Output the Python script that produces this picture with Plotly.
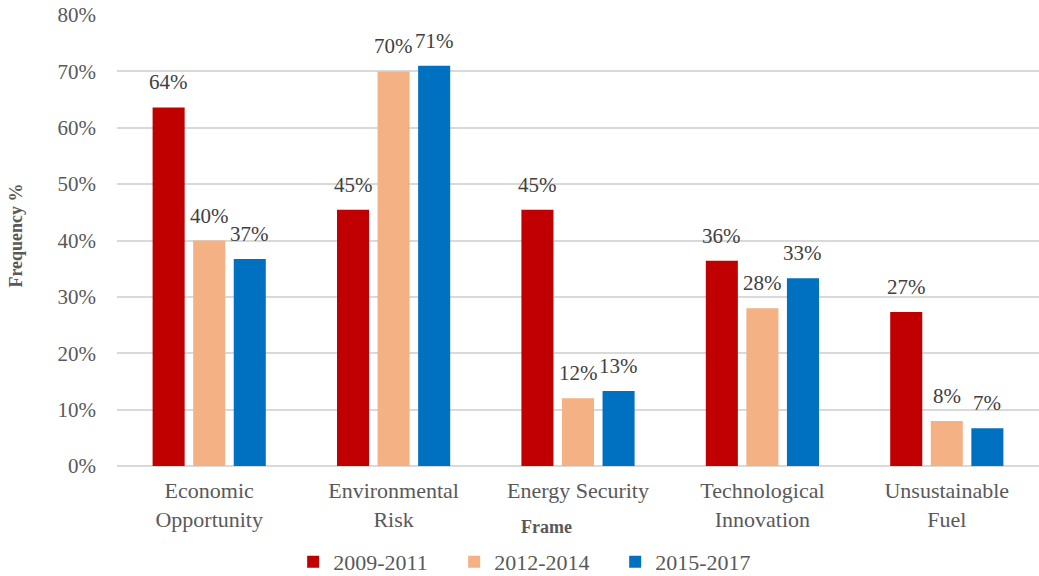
import plotly.graph_objects as go

# Share of articles using each frame, by period
frames = ["Economic<br>Opportunity", "Environmental<br>Risk", "Energy Security",
          "Technological<br>Innovation", "Unsustainable<br>Fuel"]
periods = ["2009-2011", "2012-2014", "2015-2017"]
share_2009_2011 = [0.636, 0.4545, 0.4545, 0.364, 0.273]
share_2012_2014 = [0.40, 0.70, 0.12, 0.28, 0.08]
share_2015_2017 = [0.367, 0.71, 0.133, 0.333, 0.067]
series = [share_2009_2011, share_2012_2014, share_2015_2017]
colors = ["#C00000", "#F4B183", "#0070C0"]

FONT = "'Liberation Serif', 'Times New Roman', serif"
GREY = "#595959"

fig = go.Figure()
for name, vals, col in zip(periods, series, colors):
    fig.add_trace(go.Bar(name=name, x=frames, y=vals, marker=dict(color=col, line=dict(width=0))))

# value labels above each bar, offset horizontally to sit over its bar in the group
offsets = [-40.5, 0, 40.5]
for vals, dx in zip(series, offsets):
    for f, v in zip(frames, vals):
        fig.add_annotation(x=f, y=v, text=f"{v:.0%}", showarrow=False,
                           xshift=dx, yshift=11, yanchor="bottom",
                           font=dict(family=FONT, size=21, color="#404040"))

fig.add_annotation(text="<b>Frame</b>", xref="paper", yref="paper", x=0.466, y=-0.135,
                   xanchor="center", yanchor="middle",
                   showarrow=False, font=dict(family=FONT, size=18, color=GREY))
fig.add_annotation(text="<b>Frequency %</b>", xref="paper", yref="paper", x=-0.11, y=0.51,
                   xanchor="center", yanchor="middle",
                   textangle=-90, showarrow=False, font=dict(family=FONT, size=18, color=GREY))

fig.update_layout(
    width=1039, height=576,
    margin=dict(l=117, r=0, t=15, b=110, autoexpand=False),
    barmode="group", bargap=0.34, bargroupgap=0.21,
    plot_bgcolor="white", paper_bgcolor="white",
    font=dict(family=FONT, color=GREY),
    legend=dict(orientation="h", x=0.453, xanchor="center", y=-0.213, yanchor="middle",
                font=dict(family=FONT, size=22, color=GREY), itemwidth=30,
                entrywidth=116, traceorder="normal"),
    xaxis=dict(showgrid=False, showline=False, ticks="", ticklabelstandoff=9,
               automargin=False, tickfont=dict(family=FONT, size=22, color=GREY)),
    yaxis=dict(range=[0, 0.8], dtick=0.1, tickformat=".0%", automargin=False,
               showgrid=True, gridcolor="#D9D9D9", gridwidth=1.5,
               zeroline=True, zerolinecolor="#D9D9D9", zerolinewidth=1.5,
               showline=False, ticks="", ticklabelstandoff=20,
               tickfont=dict(family=FONT, size=21, color=GREY)),
)

fig.write_html("out.html")
